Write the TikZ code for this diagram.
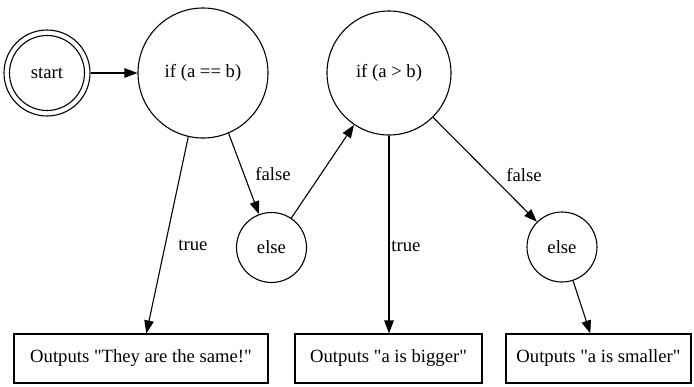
\documentclass[tikz,border=0pt]{standalone}
\usepackage{fontspec}
\setmainfont{Liberation Serif}
\newfontfamily\graphfont{Liberation Serif}
\usetikzlibrary{arrows.meta}
\begin{document}
\begin{tikzpicture}[x=1pt,y=-1pt,line width=1.1pt,
  every node/.style={font=\graphfont\fontsize{18.67}{22}\selectfont},
  statenode/.style={circle,draw,inner sep=0pt},
  outbox/.style={rectangle,draw,inner sep=0pt,minimum height=49pt},
  edge/.style={-{Triangle[length=13pt,width=9.5pt]}},
  lbl/.style={inner sep=0pt}]
\useasboundingbox (0,0) rectangle (694,386);
\node[statenode,minimum size=86pt] (start) at (47,73) {start};
\draw (start.center) circle[radius=37.5];
\node[statenode,minimum size=130pt] (if1) at (203,73) {if (a == b)};
\node[statenode,minimum size=124pt] (if2) at (389,73) {if (a > b)};
\node[statenode,minimum size=70pt] (else1) at (271.5,247.5) {else};
\node[statenode,minimum size=70pt] (else2) at (562,247) {else};
\node[outbox,minimum width=254pt] (box1) at (141,358.5) {Outputs \textquotedbl They are the same!\textquotedbl};
\node[outbox,minimum width=187pt] (box2) at (388.5,358.5) {Outputs \textquotedbl a is bigger\textquotedbl};
\node[outbox,minimum width=185pt] (box3) at (598.5,358.5) {Outputs \textquotedbl a is smaller\textquotedbl};
\draw[edge] (start) -- (if1);
\draw[edge] (if1.257) -- (box1);
\draw[edge] (if1.293) -- (else1);
\draw[edge] (else1) -- (if2);
\draw[edge] (if2.south) -- (if2.south |- box2.north);
\draw[edge] (if2) -- (else2);
\draw[edge] (else2) -- (box3);
\node[lbl] (t1) at (193,245) {true};
\node[lbl] (f1) at (273,174) {false};
\node[lbl] (t2) at (406,246) {true};
\node[lbl] (f2) at (524,175) {false};
\end{tikzpicture}
\end{document}
